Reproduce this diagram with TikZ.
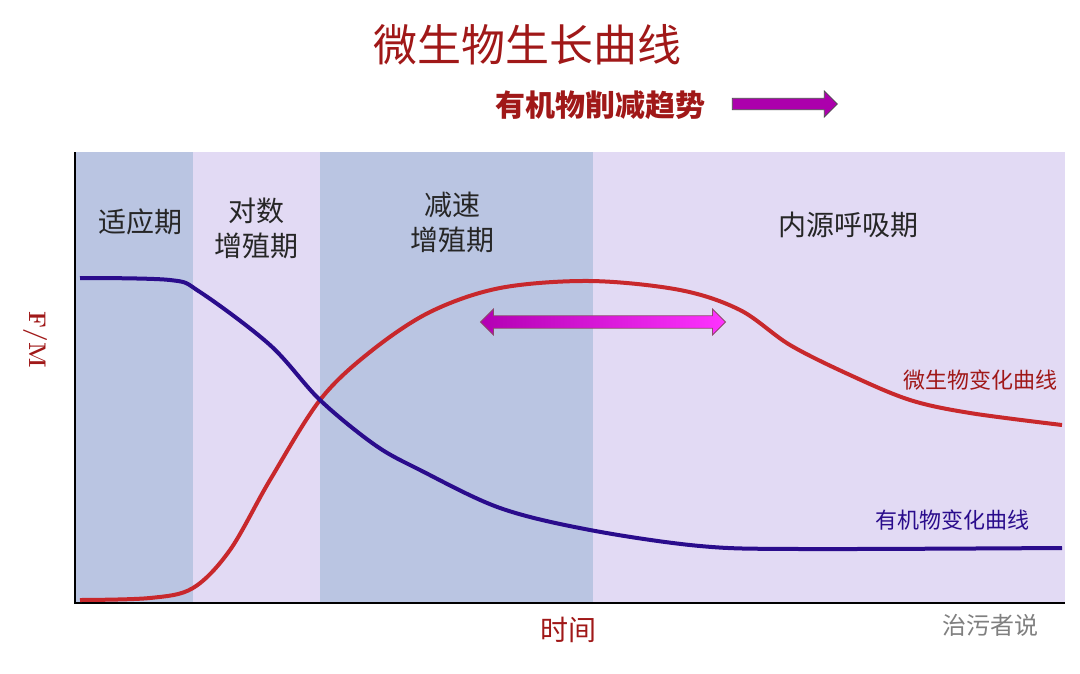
\documentclass[tikz,border=0pt]{standalone}
\usepackage{fontspec}
\newfontfamily\cjk{Noto Sans CJK SC}
\usetikzlibrary{arrows.meta,shapes.arrows}
\definecolor{dred}{HTML}{A01818}
\definecolor{bandA}{HTML}{BAC5E2}
\definecolor{bandB}{HTML}{E2DAF4}
\definecolor{curR}{HTML}{C8282C}
\definecolor{curB}{HTML}{2A0C8C}
\tikzset{lab/.style={font=\cjk\fontsize{28}{35}\selectfont,align=center,text=black!85}}
\begin{document}
\begin{tikzpicture}[x=1pt,y=-1pt]
\useasboundingbox (0,0) rectangle (1080,673);
\fill[white] (0,0) rectangle (1080,673);
\fill[bandA] (75,152) rectangle (193,603);
\fill[bandB] (193,152) rectangle (320,603);
\fill[bandA] (320,152) rectangle (593,603);
\fill[bandB] (593,152) rectangle (1065,603);
\draw[line width=2pt] (75,152) -- (75,603) -- (1065,603);
\node[font=\cjk\fontsize{44}{48}\selectfont,text=dred] (t) at (527,45) {微生物生长曲线};
\node[font=\cjk\bfseries\fontsize{30}{34}\selectfont,text=dred] (t2) at (600,105) {有机物削减趋势};
\node[single arrow,fill=violet!65!magenta,draw=black!70,minimum height=105pt,minimum width=26pt,single arrow head extend=7pt,inner xsep=0pt,inner ysep=5pt,line width=0.8pt] (pa) at (782,104) {};
\node[double arrow,left color=violet!60!magenta,right color=magenta!80,draw=magenta!50!black,minimum height=245pt,minimum width=26pt,double arrow head extend=6pt,inner xsep=0pt,inner ysep=5pt,line width=0.8pt] (da) at (603,322) {};
\draw[curR,line width=4pt] plot[smooth,tension=0.55] coordinates {(80,600)(150,598)(193,588)(230,550)(270,480)(320,400)(370,352)(430,312)(500,288)(590,281)(680,290)(740,310)(790,345)(850,375)(910,400)(970,413)(1062,425)};
\draw[curB,line width=4pt] plot[smooth,tension=0.55] coordinates {(80,278)(170,280)(200,292)(270,345)(320,400)(375,445)(420,470)(500,508)(590,530)(700,546)(800,549)(1062,548)};
\node[lab] (l1) at (140,222) {适应期};
\node[lab] (l2) at (256,228) {对数\\增殖期};
\node[lab] (l3) at (452,222) {减速\\增殖期};
\node[lab] (l4) at (848,225) {内源呼吸期};
\node[rotate=-90,font=\bfseries\fontsize{24}{26}\selectfont,text=dred] (fm) at (35,340) {F/M};
\node[font=\cjk\fontsize{28}{30}\selectfont,text=dred] (x) at (568,630) {时间};
\node[font=\cjk\fontsize{22}{24}\selectfont,text=dred] (c1) at (980,380) {微生物变化曲线};
\node[font=\cjk\fontsize{22}{24}\selectfont,text=curB] (c2) at (952,520) {有机物变化曲线};
\node[font=\cjk\fontsize{24}{28}\selectfont,text=black!50] (wm) at (990,625) {治污者说};
\end{tikzpicture}
\end{document}
